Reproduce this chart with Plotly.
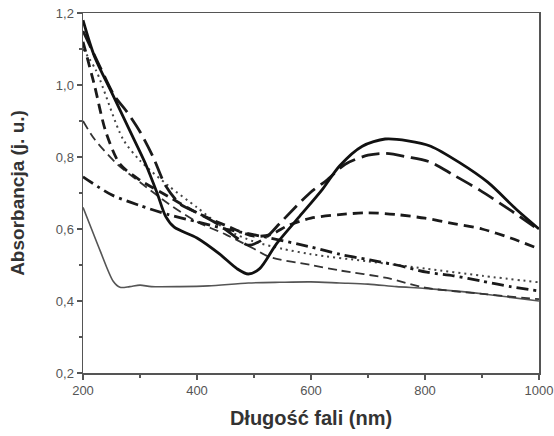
import plotly.graph_objects as go

# wavelength (nm) / absorbance (a.u.) for each curve
x_s = [200, 220, 250, 280, 310, 330, 345, 360, 400, 440, 470, 490, 510, 540, 580, 620, 650, 690, 730, 770, 810, 860, 910, 960, 1000]
y_s = [1.18, 1.08, 0.98, 0.88, 0.78, 0.70, 0.635, 0.605, 0.575, 0.53, 0.49, 0.475, 0.49, 0.56, 0.635, 0.71, 0.775, 0.83, 0.85, 0.845, 0.83, 0.785, 0.73, 0.655, 0.60]

x_ld = [200, 230, 255, 275, 300, 323, 345, 370, 400, 440, 470, 490, 520, 546, 598, 628, 660, 700, 730, 770, 809, 850, 896, 949, 1000]
y_ld = [1.15, 1.05, 0.97, 0.93, 0.87, 0.80, 0.72, 0.67, 0.645, 0.61, 0.575, 0.555, 0.575, 0.617, 0.70, 0.736, 0.78, 0.805, 0.81, 0.80, 0.786, 0.75, 0.708, 0.653, 0.597]

x_md = [200, 220, 240, 265, 300, 350, 400, 450, 500, 530, 560, 600, 650, 700, 750, 800, 850, 900, 950, 1000]
y_md = [1.12, 1.0, 0.87, 0.78, 0.736, 0.69, 0.645, 0.61, 0.58, 0.585, 0.61, 0.63, 0.64, 0.645, 0.64, 0.63, 0.615, 0.60, 0.575, 0.545]

x_dt = [200, 223, 270, 300, 350, 400, 450, 500, 550, 600, 700, 800, 900, 1000]
y_dt = [1.10, 1.04, 0.85, 0.79, 0.72, 0.66, 0.60, 0.565, 0.545, 0.53, 0.51, 0.49, 0.47, 0.452]

x_td = [200, 220, 260, 300, 350, 400, 450, 500, 528, 600, 650, 733, 800, 900, 1000]
y_td = [0.90, 0.85, 0.78, 0.73, 0.67, 0.62, 0.585, 0.545, 0.522, 0.50, 0.485, 0.464, 0.437, 0.42, 0.405]

x_dd = [200, 250, 300, 350, 400, 450, 528, 600, 650, 703, 750, 803, 850, 900, 950, 1000]
y_dd = [0.745, 0.695, 0.665, 0.64, 0.62, 0.60, 0.575, 0.55, 0.53, 0.514, 0.50, 0.48, 0.47, 0.455, 0.44, 0.428]

x_g = [200, 215, 230, 253, 265, 282, 300, 320, 370, 420, 490, 545, 600, 650, 700, 750, 800, 850, 900, 950, 1000]
y_g = [0.66, 0.60, 0.54, 0.455, 0.438, 0.44, 0.444, 0.44, 0.44, 0.442, 0.45, 0.452, 0.453, 0.45, 0.447, 0.44, 0.435, 0.428, 0.42, 0.41, 0.40]

y_ticks = [0.2, 0.4, 0.6, 0.8, 1.0, 1.2]
y_ticktext = ["0,2", "0,4", "0,6", "0,8", "1,0", "1,2"]
x_ticks = [200, 400, 600, 800, 1000]
x_ticktext = ["200", "400", "600", "800", "1000"]

series = [
    (x_g, y_g, "#555555", 1.6, "solid"),
    (x_td, y_td, "#333333", 1.8, "9px,5px"),
    (x_dt, y_dt, "#444444", 2.0, "2px,4px"),
    (x_dd, y_dd, "#1a1a1a", 2.8, "12px,5px,3px,5px"),
    (x_md, y_md, "#1a1a1a", 2.8, "10px,6px"),
    (x_ld, y_ld, "#1a1a1a", 2.8, "18px,7px"),
    (x_s, y_s, "#111111", 2.8, "solid"),
]

fig = go.Figure()
for xs, ys, col, w, dash in series:
    fig.add_trace(go.Scatter(x=xs, y=ys, mode="lines",
                             line=dict(color=col, width=w, dash=dash, shape="spline", smoothing=0.8),
                             showlegend=False, hoverinfo="skip"))

FONT = "Liberation Sans, Arial, sans-serif"
axis_common = dict(showgrid=False, zeroline=False, showline=True, linecolor="#555555",
                   linewidth=1.5, mirror=True, ticks="outside", ticklen=5, tickwidth=1.5,
                   tickcolor="#555555", automargin=False, ticklabeloverflow="allow",
                   tickfont=dict(family=FONT, size=13, color="#555555"))

fig.update_layout(
    width=554, height=436,
    margin=dict(l=83, r=15, t=13, b=63),
    paper_bgcolor="white", plot_bgcolor="white",
    xaxis=dict(range=[200, 1000], tickvals=x_ticks, ticktext=x_ticktext,
               minor=dict(ticks="outside", ticklen=3, tickwidth=1.2, tickcolor="#555555", dtick=100, tick0=200),
               title=dict(text="<b>Długość fali (nm)</b>", font=dict(family=FONT, size=20, color="#333333"), standoff=14),
               **axis_common),
    yaxis=dict(range=[0.2, 1.2], tickvals=y_ticks, ticktext=y_ticktext,
               minor=dict(ticks="outside", ticklen=3, tickwidth=1.2, tickcolor="#555555", dtick=0.1, tick0=0.2),
               title=dict(text="<b>Absorbancja (j. u.)</b>", font=dict(family=FONT, size=19, color="#333333"), standoff=26),
               **axis_common),
)

# remove the browser's default 8px body margin so the figure fills the window exactly
fig.write_html("out.html", config={"displayModeBar": False, "staticPlot": True},
               post_script="document.body.style.margin='0';document.body.style.overflow='hidden';")
